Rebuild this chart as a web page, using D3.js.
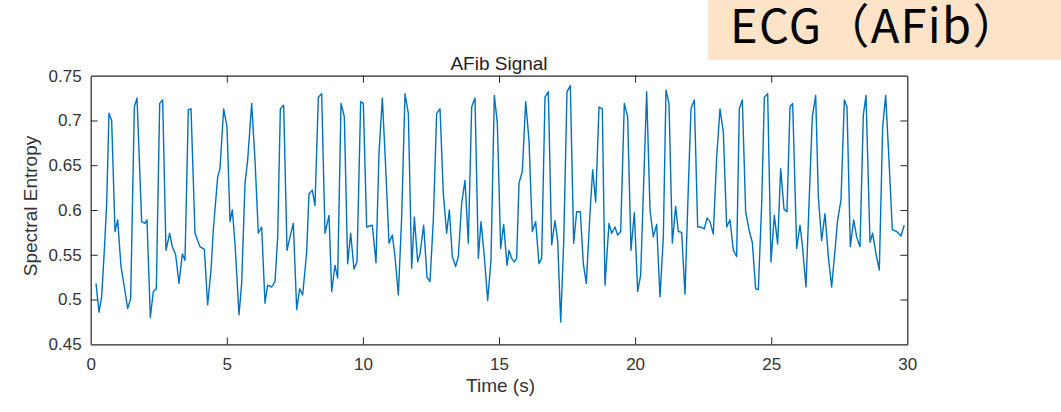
<!DOCTYPE html>
<html>
<head>
<meta charset="utf-8">
<script src="https://cdn.jsdelivr.net/npm/d3@7"></script>
<style>
  html, body { margin: 0; padding: 0; background: #ffffff; }
  svg { display: block; }
</style>
</head>
<body>
<svg id="chart" width="1061" height="412"></svg>
<script>
// ---- Data ----
const headerText = "ECG（AFib）";
const chartTitle = "AFib Signal";
const xLabel = "Time (s)";
const yLabel = "Spectral Entropy";
const xTicks = [0, 5, 10, 15, 20, 25, 30];
const yTicks = [0.45, 0.5, 0.55, 0.6, 0.65, 0.7, 0.75];

const timeSec = [
  0.195, 0.305, 0.403, 0.501, 0.587, 0.672, 0.770, 0.893, 0.991, 1.113,
  1.236, 1.358, 1.468, 1.603, 1.701, 1.872, 1.995, 2.068, 2.191, 2.301,
  2.411, 2.534, 2.644, 2.766, 2.901, 2.999, 3.121, 3.244, 3.366, 3.464,
  3.587, 3.685, 3.832, 4.015, 4.175, 4.297, 4.420, 4.505, 4.665, 4.750,
  4.885, 5.007, 5.118, 5.203, 5.301, 5.448, 5.546, 5.669, 5.767, 5.914,
  6.036, 6.158, 6.281, 6.403, 6.501, 6.648, 6.771, 6.869, 6.967, 7.089,
  7.212, 7.322, 7.444, 7.567, 7.677, 7.787, 7.934, 8.020, 8.142, 8.240,
  8.363, 8.485, 8.608, 8.755, 8.853, 8.975, 9.073, 9.196, 9.318, 9.440,
  9.551, 9.673, 9.783, 9.918, 10.016, 10.138, 10.346, 10.481, 10.591, 10.714,
  10.836, 10.959, 11.081, 11.179, 11.302, 11.424, 11.547, 11.669, 11.792, 11.890,
  12.012, 12.098, 12.233, 12.355, 12.465, 12.588, 12.710, 12.833, 12.955, 13.077,
  13.175, 13.285, 13.408, 13.506, 13.628, 13.751, 13.873, 13.996, 14.118, 14.241,
  14.339, 14.461, 14.584, 14.706, 14.828, 14.939, 15.061, 15.171, 15.294, 15.368,
  15.465, 15.563, 15.649, 15.735, 15.857, 15.980, 16.102, 16.224, 16.347, 16.469,
  16.567, 16.690, 16.812, 16.935, 17.057, 17.155, 17.266, 17.376, 17.498, 17.621,
  17.743, 17.853, 17.988, 18.098, 18.208, 18.343, 18.441, 18.551, 18.674, 18.796,
  18.894, 19.041, 19.139, 19.261, 19.359, 19.470, 19.604, 19.727, 19.849, 19.972,
  20.094, 20.204, 20.425, 20.548, 20.670, 20.792, 20.915, 21.037, 21.135, 21.245,
  21.368, 21.490, 21.588, 21.711, 21.833, 21.956, 22.054, 22.176, 22.299, 22.421,
  22.543, 22.641, 22.752, 22.874, 22.997, 23.119, 23.241, 23.364, 23.486, 23.609,
  23.731, 23.829, 23.939, 24.062, 24.184, 24.306, 24.429, 24.527, 24.650, 24.748,
  24.870, 24.993, 25.115, 25.237, 25.348, 25.470, 25.580, 25.691, 25.789, 25.936,
  26.058, 26.144, 26.278, 26.389, 26.511, 26.634, 26.731, 26.854, 26.976, 27.099,
  27.221, 27.344, 27.442, 27.564, 27.687, 27.785, 27.907, 28.030, 28.140, 28.262,
  28.385, 28.483, 28.630, 28.728, 28.850, 28.972, 29.095, 29.205, 29.327, 29.450,
  29.609, 29.768, 29.890
];

const entropy = [
  0.518, 0.486, 0.503, 0.555, 0.607, 0.708, 0.700, 0.576, 0.589, 0.537,
  0.514, 0.490, 0.501, 0.715, 0.725, 0.587, 0.585, 0.589, 0.480, 0.509,
  0.512, 0.719, 0.723, 0.555, 0.574, 0.559, 0.550, 0.518, 0.551, 0.544,
  0.712, 0.713, 0.574, 0.559, 0.556, 0.494, 0.533, 0.578, 0.637, 0.646,
  0.713, 0.693, 0.587, 0.600, 0.563, 0.483, 0.518, 0.630, 0.656, 0.719,
  0.656, 0.574, 0.581, 0.496, 0.516, 0.514, 0.520, 0.570, 0.713, 0.717,
  0.555, 0.570, 0.585, 0.489, 0.512, 0.505, 0.553, 0.618, 0.622, 0.605,
  0.726, 0.730, 0.574, 0.594, 0.509, 0.538, 0.524, 0.719, 0.704, 0.540,
  0.574, 0.534, 0.542, 0.721, 0.719, 0.581, 0.583, 0.541, 0.663, 0.725,
  0.648, 0.563, 0.572, 0.548, 0.505, 0.592, 0.730, 0.708, 0.535, 0.592,
  0.542, 0.551, 0.583, 0.525, 0.520, 0.589, 0.708, 0.713, 0.618, 0.574,
  0.600, 0.548, 0.537, 0.548, 0.607, 0.633, 0.563, 0.715, 0.725, 0.546,
  0.587, 0.548, 0.499, 0.544, 0.728, 0.697, 0.557, 0.584, 0.538, 0.555,
  0.546, 0.542, 0.546, 0.630, 0.643, 0.721, 0.678, 0.576, 0.587, 0.540,
  0.546, 0.726, 0.732, 0.561, 0.588, 0.566, 0.475, 0.563, 0.732, 0.739,
  0.563, 0.598, 0.598, 0.540, 0.518, 0.596, 0.645, 0.609, 0.715, 0.713,
  0.516, 0.585, 0.574, 0.581, 0.572, 0.576, 0.719, 0.704, 0.555, 0.597,
  0.509, 0.527, 0.732, 0.600, 0.570, 0.584, 0.503, 0.570, 0.734, 0.719,
  0.563, 0.604, 0.576, 0.575, 0.506, 0.626, 0.713, 0.723, 0.581, 0.581,
  0.579, 0.591, 0.587, 0.573, 0.659, 0.713, 0.687, 0.581, 0.589, 0.555,
  0.548, 0.713, 0.723, 0.598, 0.578, 0.564, 0.512, 0.511, 0.607, 0.726,
  0.730, 0.542, 0.594, 0.562, 0.646, 0.601, 0.598, 0.715, 0.719, 0.557,
  0.583, 0.561, 0.514, 0.607, 0.704, 0.728, 0.615, 0.566, 0.596, 0.548,
  0.514, 0.555, 0.589, 0.611, 0.723, 0.715, 0.559, 0.589, 0.570, 0.559,
  0.706, 0.728, 0.564, 0.574, 0.551, 0.533, 0.693, 0.728, 0.656, 0.578,
  0.576, 0.571, 0.583
];

// ---- Layout ----
const W = 1061, H = 412;
const plot = { left: 90.7, right: 907.3, top: 75.7, bottom: 344.3 };
const axisColor = "#262626";
const lineColor = "#0072BD";
const tickFont = "'Liberation Sans', Arial, sans-serif";

const svg = d3.select("#chart");

// Header box
svg.append("rect")
  .attr("x", 708).attr("y", 0)
  .attr("width", W - 708).attr("height", 60)
  .attr("fill", "#FDE4C8");
svg.append("text")
  .attr("x", 730).attr("y", 43)
  .attr("font-family", "'Noto Sans CJK JP', 'Noto Sans', sans-serif")
  .attr("font-size", 47)
  .attr("letter-spacing", 1.3)
  .attr("fill", "#000")
  .text(headerText);

const x = d3.scaleLinear().domain([0, 30]).range([plot.left, plot.right]);
const y = d3.scaleLinear().domain([0.45, 0.75]).range([plot.bottom, plot.top]);

const data = timeSec.map((t, i) => ({ t, v: entropy[i] }));

// Axes
const tickLen = 7;
const gx = svg.append("g").attr("transform", `translate(0,${plot.bottom})`)
  .call(d3.axisBottom(x).tickValues(xTicks).tickFormat(d3.format("d"))
    .tickSizeInner(-tickLen).tickSizeOuter(0).tickPadding(14));
const gxt = svg.append("g").attr("transform", `translate(0,${plot.top})`)
  .call(d3.axisTop(x).tickValues(xTicks).tickFormat("")
    .tickSizeInner(-tickLen).tickSizeOuter(0));
const gy = svg.append("g").attr("transform", `translate(${plot.left},0)`)
  .call(d3.axisLeft(y).tickValues(yTicks).tickFormat(d => d3.format("")(+d.toFixed(2)))
    .tickSizeInner(-tickLen).tickSizeOuter(0).tickPadding(9));
const gyr = svg.append("g").attr("transform", `translate(${plot.right},0)`)
  .call(d3.axisRight(y).tickValues(yTicks).tickFormat("")
    .tickSizeInner(-tickLen).tickSizeOuter(0));

[gx, gxt, gy, gyr].forEach(g => {
  g.selectAll(".domain").attr("stroke", axisColor).attr("stroke-width", 1.2);
  g.selectAll(".tick line").attr("stroke", axisColor).attr("stroke-width", 1);
  g.selectAll(".tick text").attr("fill", "#333").attr("font-size", 17)
    .attr("font-family", tickFont);
});
// remove ticks at the corners (box edges)
gxt.selectAll(".tick").filter(d => d === 0 || d === 30).select("line").remove();
gx.selectAll(".tick").filter(d => d === 0 || d === 30).select("line").remove();
gy.selectAll(".tick").filter(d => d === 0.45 || d === 0.75).select("line").remove();
gyr.selectAll(".tick").filter(d => d === 0.45 || d === 0.75).select("line").remove();

// Line
svg.append("path")
  .datum(data)
  .attr("fill", "none")
  .attr("stroke", lineColor)
  .attr("stroke-width", 1.4)
  .attr("stroke-linejoin", "round")
  .attr("d", d3.line().x(d => x(d.t)).y(d => y(d.v)));

// Title and labels
svg.append("text")
  .attr("x", (plot.left + plot.right) / 2).attr("y", 70)
  .attr("text-anchor", "middle")
  .attr("font-family", tickFont).attr("font-size", 19)
  .attr("fill", "#222")
  .text(chartTitle);

svg.append("text")
  .attr("x", 500.5).attr("y", 392)
  .attr("text-anchor", "middle")
  .attr("font-family", tickFont).attr("font-size", 19)
  .attr("fill", "#333")
  .text(xLabel);

svg.append("text")
  .attr("transform", `translate(37,${(plot.top + plot.bottom) / 2 - 4}) rotate(-90)`)
  .attr("text-anchor", "middle")
  .attr("font-family", tickFont).attr("font-size", 19)
  .attr("fill", "#333")
  .text(yLabel);
</script>
</body>
</html>
